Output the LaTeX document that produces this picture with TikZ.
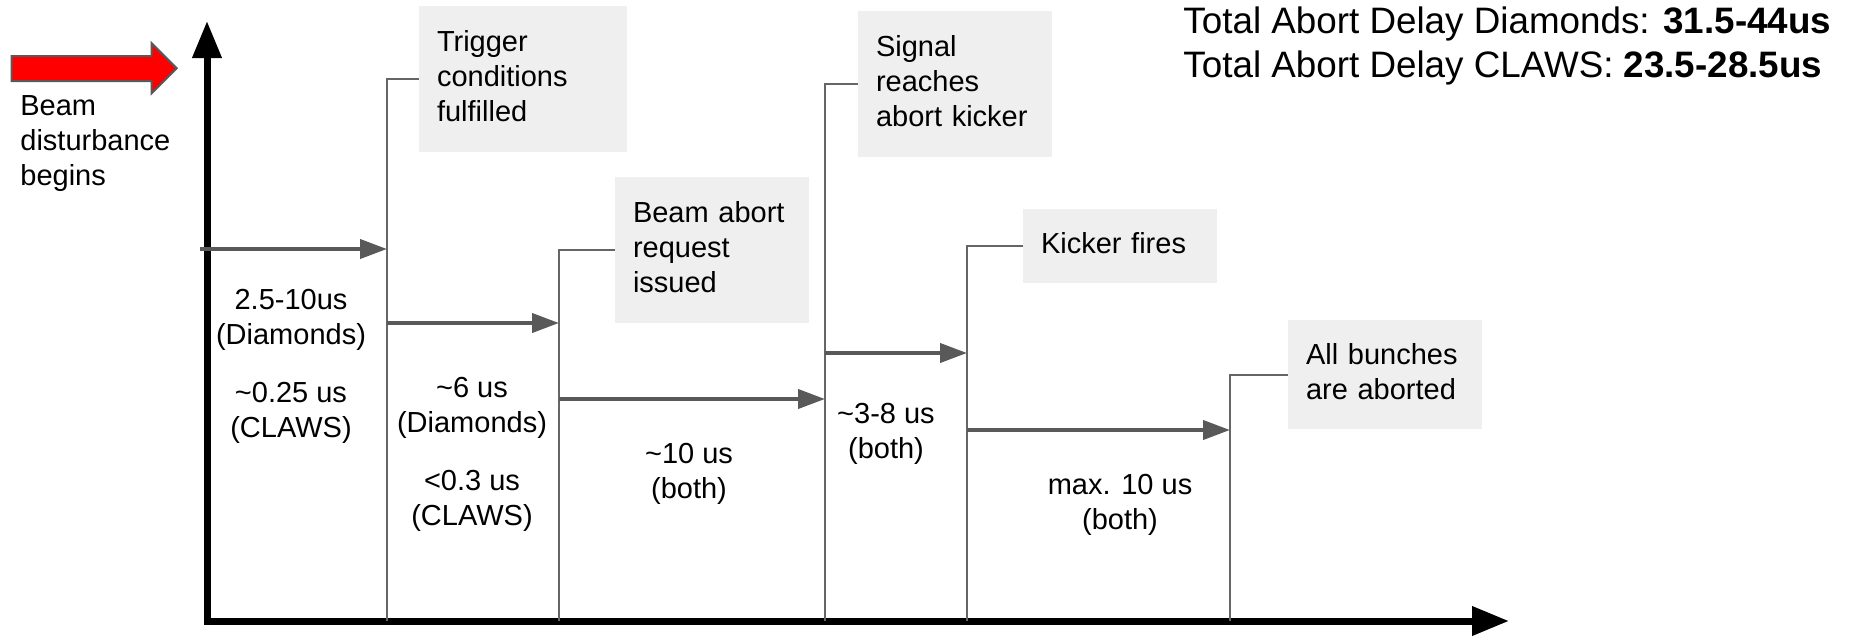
\documentclass[tikz,border=0pt]{standalone}
\usepackage{fontspec}
\setmainfont{Liberation Sans}
\usetikzlibrary{arrows.meta}
\definecolor{boxgray}{HTML}{EFEFEF}
\definecolor{linegray}{HTML}{595959}
\definecolor{tickgray}{HTML}{666666}
\definecolor{beamred}{HTML}{FF0000}
\begin{document}
\begin{tikzpicture}[x=0.5pt,y=-0.5pt,
  lbl/.style={font=\fontsize{14.5}{17.5}\selectfont, align=center, inner sep=0pt},
  evbox/.style={fill=boxgray, font=\fontsize{14.5}{17.5}\selectfont, align=left,
    inner xsep=9pt, inner ysep=0pt, anchor=center},
  tickline/.style={draw=tickgray, line width=1pt},
  durarrow/.style={draw=linegray, line width=2pt, -{Triangle[length=13.5pt,width=9.5pt]}},
  axisline/.style={line width=3.5pt, line join=miter,
    {Triangle[length=18.5pt,width=14pt]}-{Triangle[length=18.5pt,width=14pt]}}]
\useasboundingbox (0,0) rectangle (1852,637);

% axes
\coordinate (o) at (207,621);
\coordinate (ytop) at (207,21);
\coordinate (xend) at (1509,621);
\draw[axisline] (ytop) -- (o) -- (xend);

% beam disturbance arrow
\draw[draw=linegray, fill=beamred, line width=1pt]
  (11.7,56) -- (151.7,56) -- (151.7,43.3) -- (176.7,68.3) -- (151.7,93.3)
  -- (151.7,81) -- (11.7,81) -- cycle;
\node[lbl, align=left, anchor=west] (beam) at (20,143)
  {\strut Beam\\disturbance\\begins\strut};

% event boxes
\node[evbox, text width=86pt, minimum height=73pt] (e1) at (523,79)
  {\strut Trigger\\conditions\\fulfilled\strut};
\node[evbox, text width=79pt, minimum height=73pt] (e2) at (712,250)
  {\strut Beam abort\\request\\issued\strut};
\node[evbox, text width=79pt, minimum height=73pt] (e3) at (955,84)
  {\strut Signal\\reaches\\abort kicker\strut};
\node[evbox, text width=79pt, minimum height=37pt] (e4) at (1120,246)
  {\strut Kicker fires\strut};
\node[evbox, text width=79pt, minimum height=54.5pt] (e5) at (1385,374.5)
  {\strut All bunches\\are aborted\strut};

% tick lines
\coordinate (t0) at (200,621);
\coordinate (t1) at (387,621);
\coordinate (t2) at (559,621);
\coordinate (t3) at (825,621);
\coordinate (t4) at (967,621);
\coordinate (t5) at (1230,621);
\draw[tickline] (t1) |- (e1.west);
\draw[tickline] (t2) |- (e2.west);
\draw[tickline] (t3) |- (e3.west);
\draw[tickline] (t4) |- (e4.west);
\draw[tickline] (t5) |- (e5.west);

% duration arrows
\draw[durarrow] (t0 |- 0,249) -- (t1 |- 0,249);
\draw[durarrow] (t1 |- 0,323) -- (t2 |- 0,323);
\draw[durarrow] (t2 |- 0,399) -- (t3 |- 0,399);
\draw[durarrow] (t3 |- 0,353) -- (t4 |- 0,353);
\draw[durarrow] (t4 |- 0,430) -- (t5 |- 0,430);

% duration labels
\node[lbl] (d1a) at (291,319.5) {\strut 2.5-10us\\(Diamonds)\strut};
\node[lbl] (d1b) at (291,412.5) {\strut \textasciitilde 0.25 us\\(CLAWS)\strut};
\node[lbl] (d2a) at (472,407.5) {\strut \textasciitilde 6 us\\(Diamonds)\strut};
\node[lbl] (d2b) at (472,500.5) {\strut <0.3 us\\(CLAWS)\strut};
\node[lbl] (d3) at (689,473.5) {\strut \textasciitilde 10 us\\(both)\strut};
\node[lbl] (d4) at (886,433.5) {\strut \textasciitilde 3-8 us\\(both)\strut};
\node[lbl] (d5) at (1120,504.5) {\strut max. 10 us\\(both)\strut};

% totals
\node[font=\fontsize{18.4}{22}\selectfont, align=left, anchor=west, inner sep=0pt]
  (tot) at (1183,46.2)
  {\strut Total Abort Delay Diamonds: \textbf{31.5-44us}\\
   Total Abort Delay CLAWS: \textbf{23.5-28.5us}\strut};
\end{tikzpicture}
\end{document}
